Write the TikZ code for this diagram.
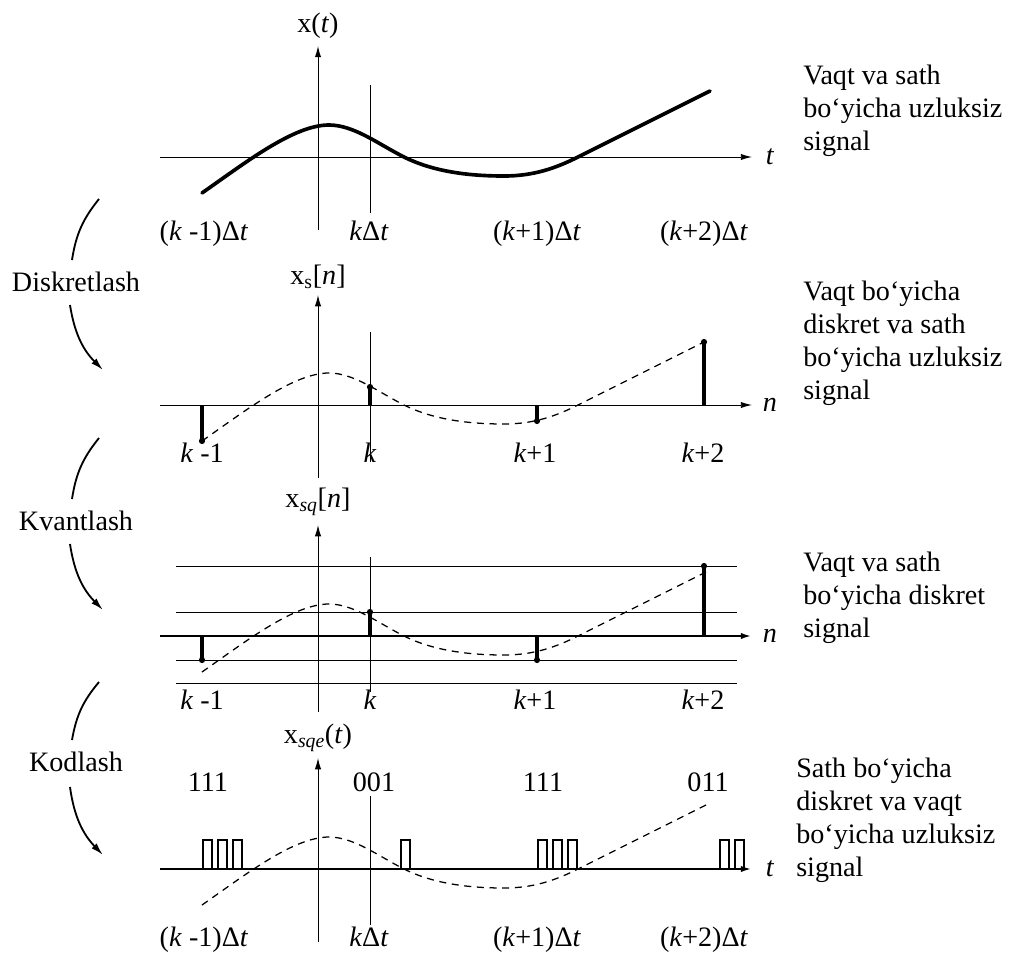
\documentclass[tikz,border=0pt]{standalone}
\usepackage{fontspec}
\setmainfont{Liberation Serif}
\usetikzlibrary{arrows.meta}

% signal x(t) drawn about an axis at height #1
\newcommand{\sigcurve}[1]{(202,#1+36) .. controls (247,#1+4.5) and (294,#1-32) .. (329,#1-32) .. controls (354,#1-32) and (379,#1-12.5) .. (404,#1) .. controls (434,#1+15) and (470,#1+19) .. (504,#1+19) .. controls (534,#1+19) and (556,#1+11) .. (578,#1) .. controls (618,#1-20) and (670,#1-46) .. (710,#1-66)}

\begin{document}
\begin{tikzpicture}[x=0.025cm, y=-0.025cm,
	every node/.style={font=\fontsize{20}{23.5}\selectfont, inner sep=0pt},
	axisline/.style={line width=0.7pt, -{Latex[length=8pt, width=4.5pt]}},
	thickaxis/.style={line width=1.8pt, -{Latex[length=8pt, width=4.5pt]}},
	gridline/.style={line width=0.7pt},
	signal/.style={line width=2.6pt, line join=round, line cap=round},
	sampled/.style={line width=0.9pt, dash pattern=on 5pt off 4pt},
	stem/.style={line width=2.4pt},
	pulse/.style={line width=1.6pt},
	stagearrow/.style={line width=1.3pt},
	ticklabel/.style={anchor=base},
	sigtext/.style={anchor=north west, align=left}]
	\useasboundingbox (0,0) rectangle (1010,953);

	% Continuous signal:
	\draw[axisline] (160,157) -- (752,157);
	\node (t1) at (770,157) {\textit{t}};
	\draw[axisline] (318,230) -- (318,46);
	\node (x1) at (318,26) {x(\textit{t})};
	\draw[gridline] (370,85) -- (370,213);
	\draw[signal] \sigcurve{157};
	\foreach \sx/\lab in {204/{(\textit{k} -1)Δ\textit{t}}, 369/{\textit{k}Δ\textit{t}}, 537/{(\textit{k}+1)Δ\textit{t}}, 704/{(\textit{k}+2)Δ\textit{t}}}
		\node[ticklabel] (ta\sx) at (\sx,240) {\lab};
	\node[sigtext] (txt1) at (803,65) {Vaqt va sath\\bo‘yicha uzluksiz\\signal};

	% Sampled signal:
	\draw[axisline] (160,405) -- (752,405);
	\node (n2) at (770,405) {\textit{n}};
	\draw[axisline] (318,478) -- (318,295);
	\node (x2) at (318,277) {x\textsubscript{s}[\textit{n}]};
	\draw[gridline] (370,332) -- (370,462);
	\draw[sampled] \sigcurve{405};
	\foreach \sx/\sv in {202/36, 370/-18, 537/16, 704/-63} {
		\draw[stem] (\sx,405) -- (\sx,405+\sv);
		\fill (\sx,405+\sv) circle[radius=2.2pt];
	}
	\node[sigtext] (txt2) at (803,281) {Vaqt bo‘yicha\\diskret va sath\\bo‘yicha uzluksiz\\signal};

	% Quantized signal:
	\foreach \ly in {566,612,660,683}
		\draw[gridline] (176,\ly) -- (737,\ly);
	\draw[thickaxis] (160,636) -- (752,636);
	\node (n3) at (770,636) {\textit{n}};
	\draw[axisline] (318,712) -- (318,525);
	\node (x3) at (318,502) {x\textsubscript{\textit{sq}}[\textit{n}]};
	\draw[gridline] (370,557) -- (370,692);
	\draw[sampled] \sigcurve{636};
	\foreach \sx/\sv in {202/24, 370/-24, 537/24, 704/-70} {
		\draw[stem] (\sx,636) -- (\sx,636+\sv);
		\fill (\sx,636+\sv) circle[radius=2.2pt];
	}
	\node[sigtext] (txt3) at (803,552) {Vaqt va sath\\bo‘yicha diskret\\signal};

	\foreach \sx/\lab in {202/{\textit{k} -1}, 370/{\textit{k}}, 535/{\textit{k}+1}, 703/{\textit{k}+2}} {
		\node[ticklabel] (na\sx) at (\sx,462) {\lab};
		\node[ticklabel] (nb\sx) at (\sx,709) {\lab};
	}

	% Coded signal:
	\draw[thickaxis] (160,869) -- (752,869);
	\node (t4) at (770,869) {\textit{t}};
	\draw[axisline] (318,942) -- (318,758);
	\node (x4) at (318,738) {x\textsubscript{\textit{sqe}}(\textit{t})};
	\draw[gridline] (370,796) -- (370,925);
	\draw[sampled] \sigcurve{869};
	\foreach \px in {203,218,233,401,538,553,568,720,735}
		\draw[pulse] (\px,869) -- (\px,840) -- (\px+9,840) -- (\px+9,869);
	\foreach \sx/\code in {208/111, 374/001, 543/111, 708/011}
		\node[ticklabel] (c\sx) at (\sx,791) {\code};
	\foreach \sx/\lab in {204/{(\textit{k} -1)Δ\textit{t}}, 369/{\textit{k}Δ\textit{t}}, 537/{(\textit{k}+1)Δ\textit{t}}, 704/{(\textit{k}+2)Δ\textit{t}}}
		\node[ticklabel] (tb\sx) at (\sx,946) {\lab};
	\node[sigtext] (txt4) at (796,758) {Sath bo‘yicha\\diskret va vaqt\\bo‘yicha uzluksiz\\signal};

	% Stages:
	\node (s1) at (76,282) {Diskretlash};
	\node (s2) at (76,521) {Kvantlash};
	\node (s3) at (76,762) {Kodlash};
	\draw[stagearrow] (99,199) to[bend right=15] (72,260);
	\draw[stagearrow, -{Latex[length=9pt, width=5pt]}] (70,305) to[bend right=18] (103,370);
	\draw[stagearrow] (99,438) to[bend right=15] (72,499);
	\draw[stagearrow, -{Latex[length=9pt, width=5pt]}] (70,544) to[bend right=18] (103,610);
	\draw[stagearrow] (99,682) to[bend right=15] (72,740);
	\draw[stagearrow, -{Latex[length=9pt, width=5pt]}] (70,787) to[bend right=18] (103,855);
\end{tikzpicture}
\end{document}
